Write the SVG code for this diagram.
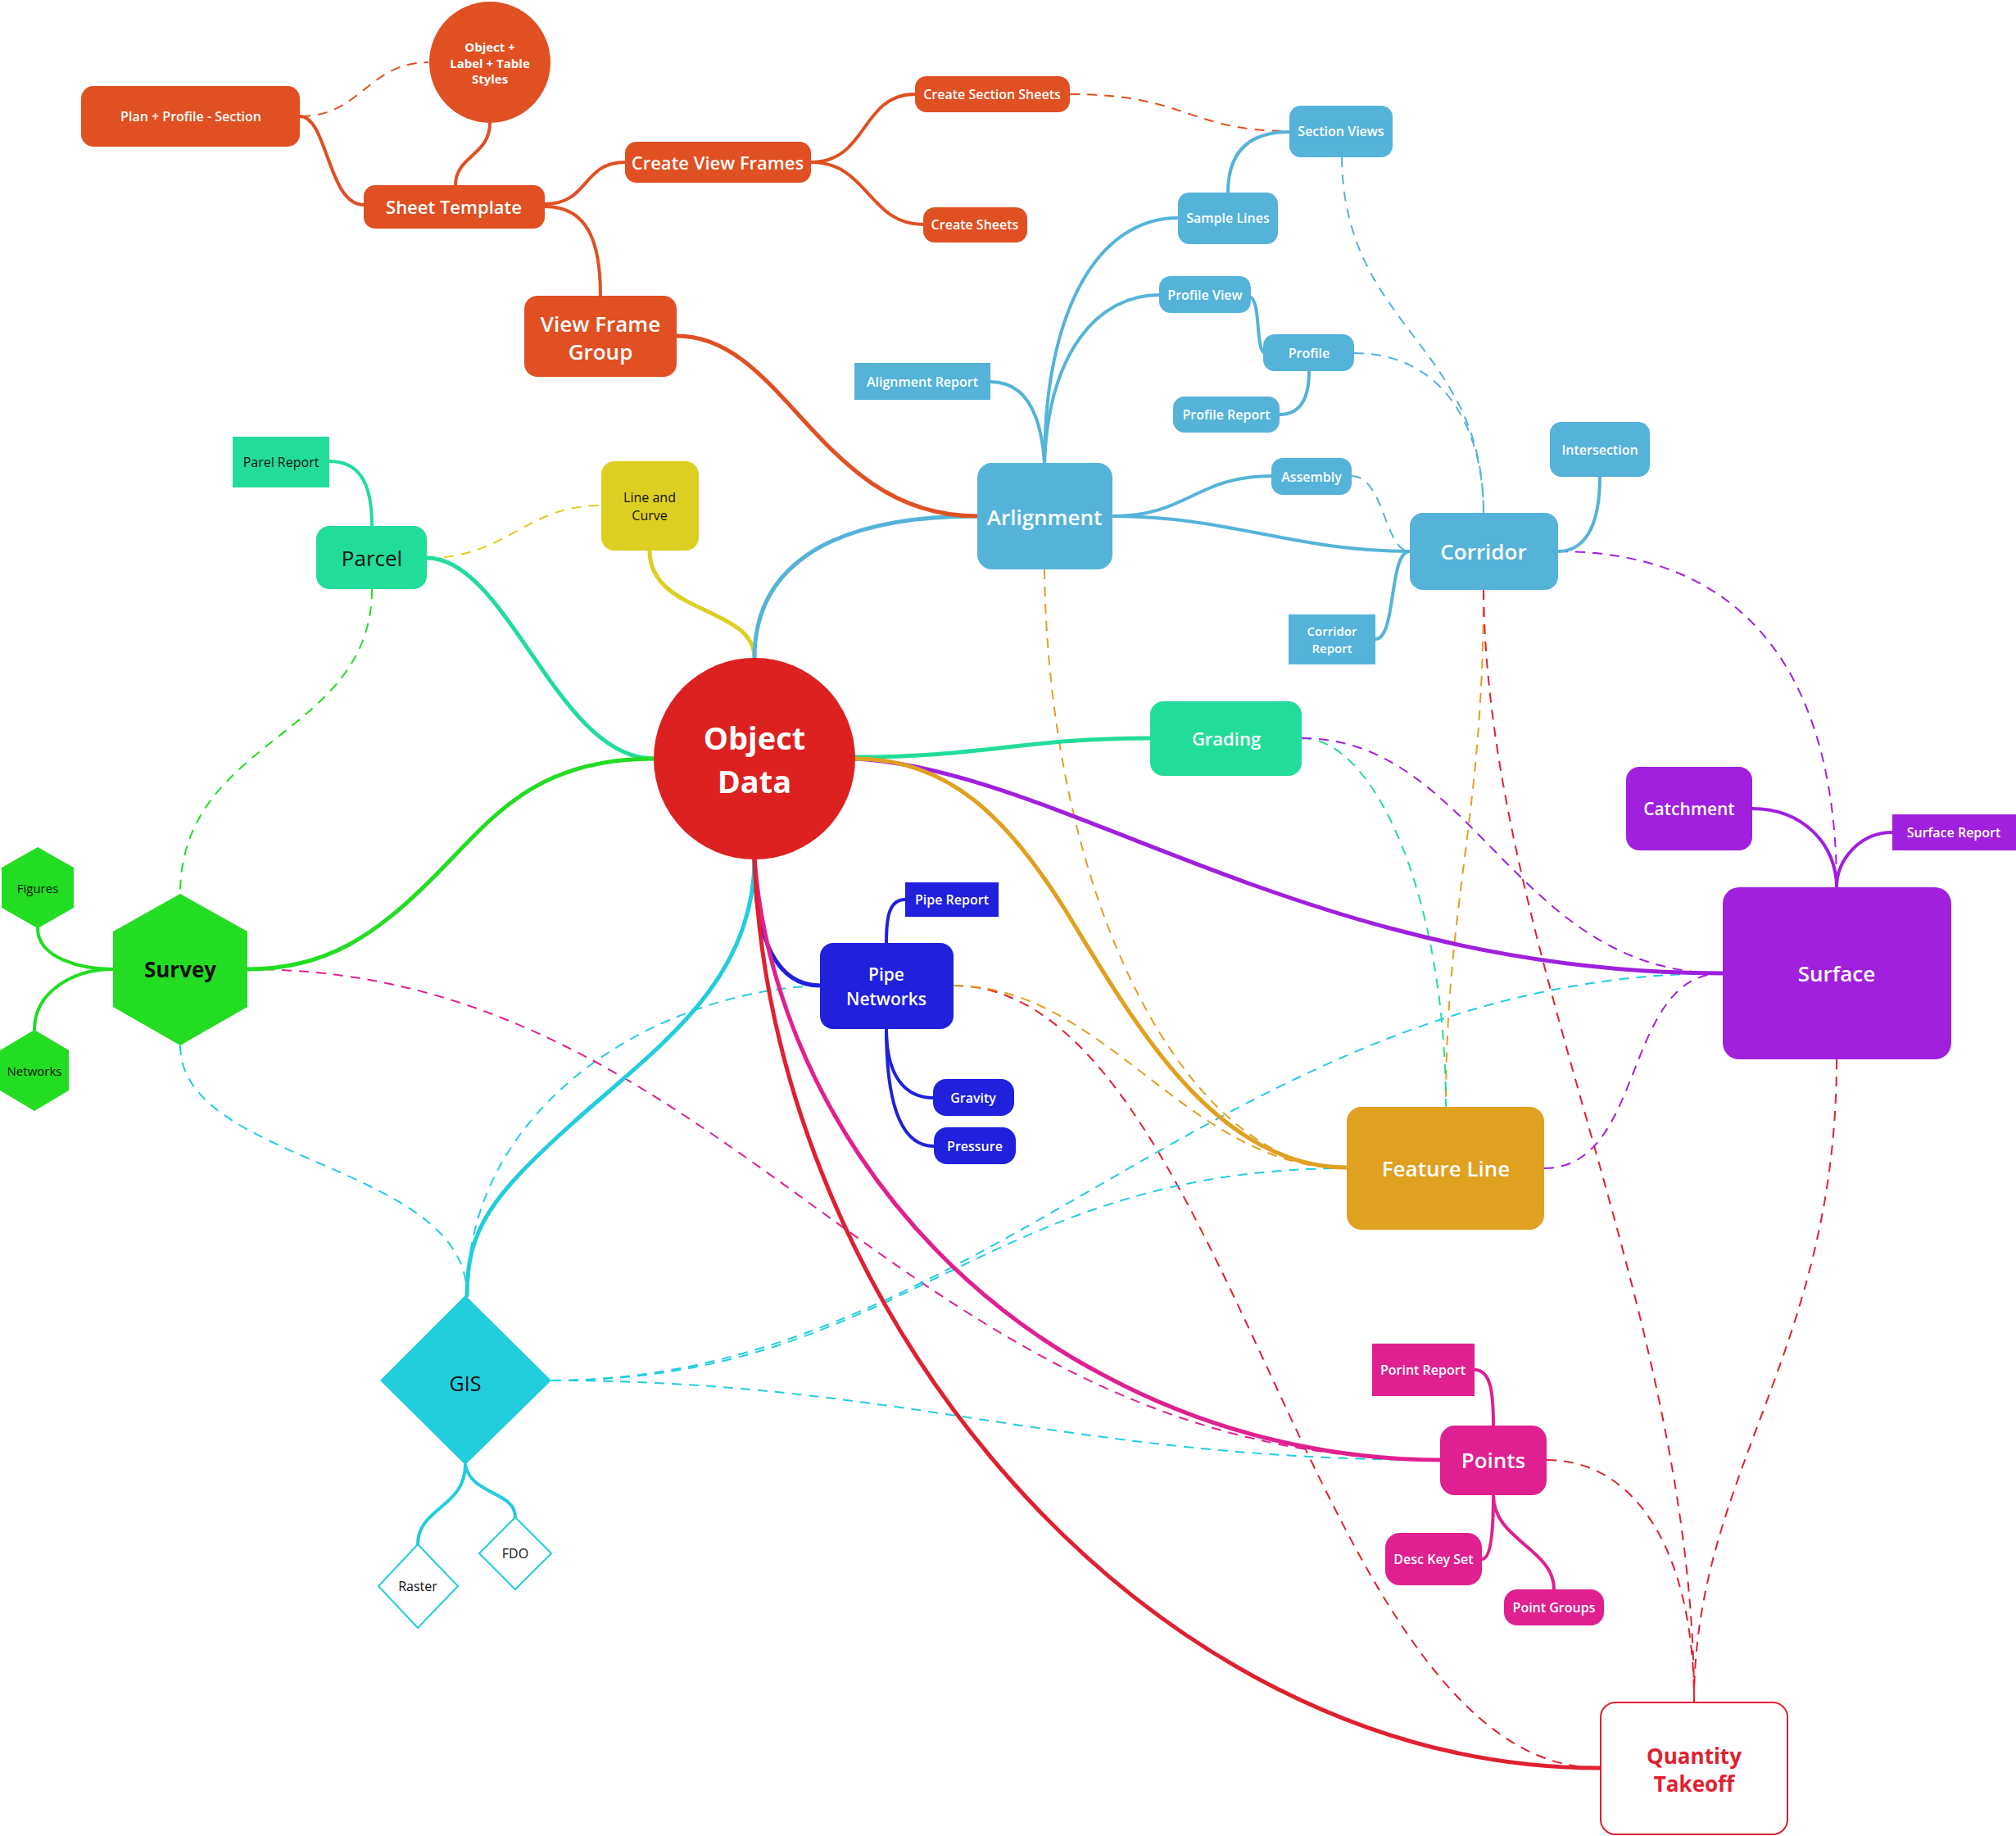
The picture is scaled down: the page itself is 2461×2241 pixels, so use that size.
<svg xmlns="http://www.w3.org/2000/svg" width="2461" height="2241" viewBox="0 0 2461 2241">
<style>
text{font-family:"Open Sans","Noto Sans","Liberation Sans",sans-serif;text-anchor:middle;dominant-baseline:central;font-weight:600}
text.n4{font-weight:400}text.n5{font-weight:500}text.n7{font-weight:700}
.w{fill:#fff}.k{fill:#111}
.s{fill:none;stroke-linecap:round}
.m{stroke-width:5}.b{stroke-width:4}
.d{fill:none;stroke-width:2;stroke-dasharray:12 9}
.or{stroke:#E05022}.bl{stroke:#55B3D9}.te{stroke:#22DD99}.ye{stroke:#DDCF22}.gr{stroke:#22DD22}
.pb{stroke:#2020DD}.pu{stroke:#A020DD}.go{stroke:#E0A020}.cy{stroke:#22CDDD}.mg{stroke:#E02090}.rd{stroke:#E02030}
.fo{fill:#E05022}.fb{fill:#55B3D9}.ft{fill:#22DD99}.fy{fill:#DDCF22}.fg{fill:#22DD22}.fr{fill:#DD2020}
.fp{fill:#2020DD}.fu{fill:#A020DD}.fgo{fill:#E0A020}.fc{fill:#22CDDD}.fm{fill:#E02090}
</style>
<g id="connectors">
<path class="d or" d="M367 142 C440 142 450 76 523 76"/>
<path class="d or" d="M1306 115 C1450 115 1450 160 1574 160"/>
<path class="d bl" d="M1638 192 C1640 400 1811 420 1811 626"/>
<path class="d bl" d="M1653 431 C1760 431 1811 520 1811 626"/>
<path class="d bl" d="M1650 581 C1690 581 1690 673 1721 673"/>
<path class="d pu" d="M1902 673 C2150 673 2242 850 2242 1083"/>
<path class="d go" d="M1811 720 C1811 1000 1765 1100 1765 1351"/>
<path class="d rd" d="M1811 720 C1815 1150 2068 1600 2068 2077"/>
<path class="d go" d="M1275 695 C1280 1100 1450 1426 1644 1426"/>
<path class="d te" d="M1589 901 C1680 901 1765 1100 1765 1351"/>
<path class="d pu" d="M1589 901 C1800 901 1850 1188 2103 1188"/>
<path class="d pu" d="M1885 1426 C2010 1426 1980 1188 2103 1188"/>
<path class="d rd" d="M2242 1293 C2242 1650 2068 1800 2068 2077"/>
<path class="d rd" d="M1888 1782 C2000 1782 2068 1900 2068 2077"/>
<path class="d rd" d="M1164 1203 C1500 1203 1600 2158 1953 2158"/>
<path class="d go" d="M1164 1203 C1350 1203 1450 1426 1644 1426"/>
<path class="d cy" d="M1001 1203 C800 1210 570 1350 570 1581"/>
<path class="d cy" d="M220 1276 C220 1420 570 1420 570 1581"/>
<path class="d mg" d="M302 1183 C900 1183 1100 1782 1758 1782"/>
<path class="d cy" d="M673 1685 C1200 1685 1500 1188 2103 1188"/>
<path class="d cy" d="M673 1685 C1100 1685 1200 1426 1644 1426"/>
<path class="d cy" d="M673 1685 C1100 1685 1300 1782 1758 1782"/>
<path class="d ye" d="M521 681 C620 681 640 617 734 617"/>
<path class="d gr" d="M454 719 C454 900 220 900 220 1091"/>
<path class="s m te" d="M798 926 C680 926 620 681 521 681"/>
<path class="s m ye" d="M921 803 C921 740 793 750 793 672"/>
<path class="s m bl" d="M921 803 C921 700 1000 630 1193 630"/>
<path class="s m or" d="M826 410 C960 410 1000 630 1193 630"/>
<path class="s m te" d="M1044 924 C1200 924 1250 901 1404 901"/>
<path class="s m pu" d="M1044 926 C1300 940 1600 1188 2103 1188"/>
<path class="s m go" d="M1044 926 C1160 926 1230 1000 1300 1110 C1380 1240 1480 1425 1644 1425"/>
<path class="s m pb" d="M921 1048 C921 1150 950 1203 1001 1203"/>
<path class="s m cy" d="M921 1048 C921 1200 800 1280 700 1370 C600 1460 570 1500 570 1581"/>
<path class="s m mg" d="M921 1048 C940 1300 1100 1550 1350 1680 C1500 1760 1650 1782 1758 1782"/>
<path class="s m rd" d="M921 1048 C940 1600 1400 2158 1953 2158"/>
<path class="s m gr" d="M798 926 C650 926 600 1000 530 1070 C460 1140 400 1183 302 1183"/>
<path class="s b or" d="M366 142 C400 142 400 250 444 250"/>
<path class="s b or" d="M598 150 C598 190 556 190 556 226"/>
<path class="s b or" d="M665 249 C720 249 710 198 763 198"/>
<path class="s b or" d="M665 252 C720 252 733 300 733 361"/>
<path class="s b or" d="M990 198 C1060 198 1050 115 1117 115"/>
<path class="s b or" d="M990 198 C1060 198 1060 274 1127 274"/>
<path class="s b bl" d="M1275 565 C1275 380 1340 266 1438 266"/>
<path class="s b bl" d="M1499 235 C1499 180 1530 161 1574 161"/>
<path class="s b bl" d="M1275 565 C1280 430 1340 360 1415 360"/>
<path class="s b bl" d="M1525 362 C1540 365 1532 428 1544 431"/>
<path class="s b bl" d="M1598 453 C1598 490 1585 506 1562 506"/>
<path class="s b bl" d="M1209 466 C1260 466 1272 520 1275 565"/>
<path class="s b bl" d="M1358 630 C1450 630 1460 581 1552 581"/>
<path class="s b bl" d="M1358 630 C1500 630 1580 673 1721 673"/>
<path class="s b bl" d="M1679 780 C1705 780 1695 673 1721 673"/>
<path class="s b bl" d="M1953 582 C1953 650 1930 673 1902 673"/>
<path class="s b te" d="M402 563 C445 563 454 600 454 642"/>
<path class="s b gr" d="M46 1133 C46 1170 100 1183 138 1183"/>
<path class="s b gr" d="M42 1257 C42 1210 90 1183 138 1183"/>
<path class="s b pu" d="M2139 987 C2200 987 2242 1030 2242 1083"/>
<path class="s b pu" d="M2310 1016 C2270 1016 2242 1050 2242 1083"/>
<path class="s b pb" d="M1105 1098 C1085 1098 1082 1120 1082 1151"/>
<path class="s b pb" d="M1082 1256 C1082 1320 1110 1340 1139 1340"/>
<path class="s b pb" d="M1082 1256 C1082 1370 1110 1399 1140 1399"/>
<path class="s b mg" d="M1800 1672 C1820 1672 1823 1700 1823 1740"/>
<path class="s b mg" d="M1823 1825 C1823 1880 1818 1903 1809 1903"/>
<path class="s b mg" d="M1823 1825 C1823 1880 1897 1890 1897 1940"/>
<path class="s b cy" d="M568 1788 C568 1840 510 1840 510 1885"/>
<path class="s b cy" d="M568 1788 C575 1825 629 1820 629 1852"/>
</g>
<g id="n-objlabel"><circle class="fo" cx="598" cy="76" r="74"/><text class="w n7" font-size="15"><tspan x="598" y="57">Object +</tspan><tspan x="598" y="77">Label + Table</tspan><tspan x="598" y="96">Styles</tspan></text></g>
<g id="n-pps"><rect class="fo" x="99" y="105" width="267" height="74" rx="15"/><text class="w" x="233" y="142" font-size="16">Plan + Profile - Section</text></g>
<g id="n-sheet"><rect class="fo" x="444" y="226" width="221" height="53" rx="14"/><text class="w" x="554" y="252" font-size="22">Sheet Template</text></g>
<g id="n-cvf"><rect class="fo" x="763" y="173" width="227" height="50" rx="14"/><text class="w" x="876" y="198" font-size="22">Create View Frames</text></g>
<g id="n-vfg"><rect class="fo" x="640" y="361" width="186" height="99" rx="16"/><text class="w" font-size="26"><tspan x="733" y="395">View Frame</tspan><tspan x="733" y="429">Group</tspan></text></g>
<g id="n-css"><rect class="fo" x="1117" y="93" width="189" height="44" rx="14"/><text class="w" x="1211" y="115" font-size="16">Create Section Sheets</text></g>
<g id="n-cs"><rect class="fo" x="1127" y="253" width="127" height="43" rx="14"/><text class="w" x="1190" y="274" font-size="16">Create Sheets</text></g>
<g id="n-secviews"><rect class="fb" x="1574" y="129" width="126" height="63" rx="14"/><text class="w" x="1637" y="160" font-size="16">Section Views</text></g>
<g id="n-sample"><rect class="fb" x="1438" y="235" width="122" height="63" rx="14"/><text class="w" x="1499" y="266" font-size="16">Sample Lines</text></g>
<g id="n-pview"><rect class="fb" x="1415" y="337" width="112" height="45" rx="14"/><text class="w" x="1471" y="360" font-size="16">Profile View</text></g>
<g id="n-profile"><rect class="fb" x="1542" y="408" width="111" height="45" rx="14"/><text class="w" x="1598" y="431" font-size="16">Profile</text></g>
<g id="n-preport"><rect class="fb" x="1432" y="484" width="130" height="44" rx="14"/><text class="w" x="1497" y="506" font-size="16">Profile Report</text></g>
<g id="n-alreport"><rect class="fb" x="1043" y="443" width="166" height="45"/><text class="w" x="1126" y="466" font-size="16">Alignment Report</text></g>
<g id="n-arlign"><rect class="fb" x="1193" y="565" width="165" height="130" rx="18"/><text class="w" x="1275" y="631" font-size="26">Arlignment</text></g>
<g id="n-assembly"><rect class="fb" x="1552" y="559" width="98" height="45" rx="14"/><text class="w" x="1601" y="582" font-size="16">Assembly</text></g>
<g id="n-corridor"><rect class="fb" x="1721" y="626" width="181" height="94" rx="16"/><text class="w" x="1811" y="673" font-size="26">Corridor</text></g>
<g id="n-intersect"><rect class="fb" x="1892" y="515" width="122" height="67" rx="14"/><text class="w" x="1953" y="549" font-size="16">Intersection</text></g>
<g id="n-correport"><rect class="fb" x="1573" y="750" width="106" height="61"/><text class="w" font-size="15"><tspan x="1626" y="770">Corridor</tspan><tspan x="1626" y="791">Report</tspan></text></g>
<g id="n-parelreport"><rect class="ft" x="284" y="533" width="118" height="62"/><text class="k n4" x="343" y="564" font-size="16">Parel Report</text></g>
<g id="n-parcel"><rect class="ft" x="386" y="642" width="135" height="77" rx="16"/><text class="k n5" x="454" y="681" font-size="26">Parcel</text></g>
<g id="n-grading"><rect class="ft" x="1404" y="856" width="185" height="91" rx="16"/><text class="w" x="1497" y="901" font-size="22">Grading</text></g>
<g id="n-linecurve"><rect class="fy" x="734" y="563" width="119" height="109" rx="16"/><text class="k n4" font-size="16"><tspan x="793" y="607">Line and</tspan><tspan x="793" y="629">Curve</tspan></text></g>
<g id="n-survey"><polygon class="fg" points="220,1091 302,1137 302,1229 220,1276 138,1229 138,1137"/><text class="k n7" x="220" y="1183" font-size="26">Survey</text></g>
<g id="n-figures"><polygon class="fg" points="46,1034 90,1059 90,1108 46,1133 2,1108 2,1059"/><text class="k n4" x="46" y="1084" font-size="15">Figures</text></g>
<g id="n-networks"><polygon class="fg" points="42,1257 84,1282 84,1331 42,1356 0,1331 0,1282"/><text class="k n4" x="42" y="1307" font-size="15">Networks</text></g>
<g id="n-objdata"><circle class="fr" cx="921" cy="926" r="123"/><text class="w n7" font-size="38"><tspan x="921" y="900">Object</tspan><tspan x="921" y="953">Data</tspan></text></g>
<g id="n-pipenet"><rect class="fp" x="1001" y="1151" width="163" height="105" rx="16"/><text class="w" font-size="21"><tspan x="1082" y="1189">Pipe</tspan><tspan x="1082" y="1219">Networks</tspan></text></g>
<g id="n-pipereport"><rect class="fp" x="1105" y="1077" width="114" height="42"/><text class="w" x="1162" y="1098" font-size="16">Pipe Report</text></g>
<g id="n-gravity"><rect class="fp" x="1139" y="1317" width="99" height="45" rx="16"/><text class="w" x="1188" y="1340" font-size="16">Gravity</text></g>
<g id="n-pressure"><rect class="fp" x="1140" y="1376" width="100" height="45" rx="16"/><text class="w" x="1190" y="1399" font-size="16">Pressure</text></g>
<g id="n-catchment"><rect class="fu" x="1985" y="936" width="154" height="102" rx="16"/><text class="w" x="2062" y="987" font-size="21">Catchment</text></g>
<g id="n-surfreport"><rect class="fu" x="2310" y="994" width="151" height="44"/><text class="w" x="2385" y="1016" font-size="16">Surface Report</text></g>
<g id="n-surface"><rect class="fu" x="2103" y="1083" width="279" height="210" rx="20"/><text class="w" x="2242" y="1188" font-size="26">Surface</text></g>
<g id="n-featureline"><rect class="fgo" x="1644" y="1351" width="241" height="150" rx="18"/><text class="w" x="1765" y="1426" font-size="26">Feature Line</text></g>
<g id="n-gis"><polygon class="fc" points="568,1581 673,1685 568,1788 464,1685"/><text class="k n4" x="568" y="1688" font-size="25">GIS</text></g>
<g id="n-raster"><polygon fill="#fff" stroke="#22CDDD" stroke-width="2" points="510,1885 559,1936 510,1987 462,1936"/><text class="k n4" x="510" y="1936" font-size="16">Raster</text></g>
<g id="n-fdo"><polygon fill="#fff" stroke="#22CDDD" stroke-width="2" points="629,1852 673,1896 629,1940 585,1896"/><text class="k n4" x="629" y="1896" font-size="16">FDO</text></g>
<g id="n-points"><rect class="fm" x="1758" y="1740" width="130" height="85" rx="18"/><text class="w" x="1823" y="1782" font-size="26">Points</text></g>
<g id="n-porint"><rect class="fm" x="1675" y="1640" width="125" height="64"/><text class="w" x="1737" y="1672" font-size="16">Porint Report</text></g>
<g id="n-desckey"><rect class="fm" x="1691" y="1871" width="118" height="64" rx="18"/><text class="w" x="1750" y="1903" font-size="16">Desc Key Set</text></g>
<g id="n-pointgroups"><rect class="fm" x="1836" y="1940" width="122" height="44" rx="16"/><text class="w" x="1897" y="1962" font-size="16">Point Groups</text></g>
<g id="n-qt"><rect x="1954" y="2078" width="228" height="161" rx="18" fill="#fff" stroke="#E02030" stroke-width="2"/><text class="n7" fill="#E02030" font-size="26"><tspan x="2068" y="2143">Quantity</tspan><tspan x="2068" y="2177">Takeoff</tspan></text></g>
</svg>
